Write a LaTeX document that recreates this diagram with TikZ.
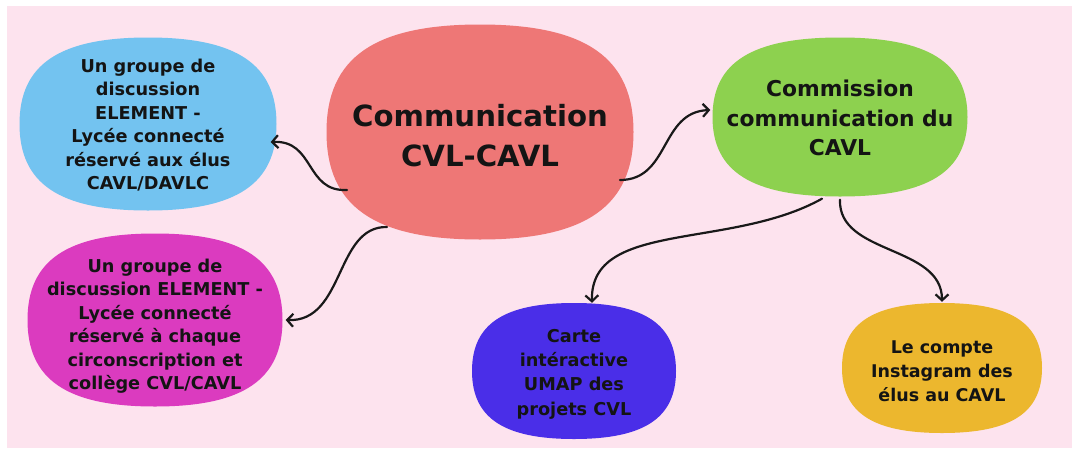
\documentclass[tikz,border=0pt]{standalone}
\usepackage{fontspec}
\setmainfont{DejaVu Sans}
\usetikzlibrary{arrows.meta,calc}
\definecolor{bgpink}{HTML}{FDE3EE}
\definecolor{cblue}{HTML}{73C3F0}
\definecolor{cmag}{HTML}{DB3BBF}
\definecolor{cred}{HTML}{EE7776}
\definecolor{cgreen}{HTML}{8DD14F}
\definecolor{cviolet}{HTML}{4A2EE8}
\definecolor{cyellow}{HTML}{ECB72E}
\definecolor{ctext}{HTML}{141414}
\def\kk{0.69}
% squircle-like blob: centre x, centre y, half width, half height, colour
\newcommand\sqblob[5]{%
  \fill[#5] (#1+#3,#2) .. controls (#1+#3,#2+\kk*#4) and (#1+\kk*#3,#2+#4) .. (#1,#2+#4)
    .. controls (#1-\kk*#3,#2+#4) and (#1-#3,#2+\kk*#4) .. (#1-#3,#2)
    .. controls (#1-#3,#2-\kk*#4) and (#1-\kk*#3,#2-#4) .. (#1,#2-#4)
    .. controls (#1+\kk*#3,#2-#4) and (#1+#3,#2-\kk*#4) .. cycle;}
\tikzset{
  holder/.style={rectangle, draw=none, fill=none, inner sep=0pt},
  txt/.style={align=center, inner sep=0pt, text=ctext,
    font=\bfseries\fontsize{17.7}{23.5}\selectfont},
  link/.style={line width=2.2pt, draw=black!90, line cap=round,
    -{Straight Barb[length=6pt,width=13pt,line width=2.2pt]}}
}
\begin{document}
\begin{tikzpicture}[x=1pt,y=-1pt]
\useasboundingbox (0,0) rectangle (1072,448);
\fill[white] (0,0) rectangle (1072,448);
\fill[bgpink] (7,6) rectangle (1072,448);

\sqblob{148}{124}{128.5}{86.5}{cblue}
\sqblob{155}{320}{127.5}{86.5}{cmag}
\sqblob{480}{132}{153.5}{107.5}{cred}
\sqblob{840}{117}{127.5}{79.5}{cgreen}
\sqblob{574}{371}{102}{68}{cviolet}
\sqblob{942}{368}{100}{65}{cyellow}

\node[holder, minimum width=257pt, minimum height=173pt] (blue) at (148,124) {};
\node[holder, minimum width=255pt, minimum height=173pt] (mag) at (155,320) {};
\node[holder, minimum width=307pt, minimum height=215pt] (red) at (480,132) {};
\node[holder, minimum width=255pt, minimum height=159pt] (green) at (840,117) {};
\node[holder, minimum width=204pt, minimum height=136pt] (violet) at (574,371) {};
\node[holder, minimum width=200pt, minimum height=130pt] (yellow) at (942,368) {};

\node[txt] (bluetext) at ($(blue.center)+(0,1)$)
  {Un groupe de\\discussion\\ELEMENT -\\Lycée connecté\\réservé aux élus\\CAVL/DAVLC};
\node[txt] (magtext) at ($(mag.center)+(0,6)$)
  {Un groupe de\\discussion ELEMENT -\\Lycée connecté\\réservé à chaque\\circonscription et\\collège CVL/CAVL};
\node[txt, font=\bfseries\fontsize{29.2}{40}\selectfont] (redtext) at ($(red.center)+(0,4)$)
  {Communication\\CVL-CAVL};
\node[txt, font=\bfseries\fontsize{21.8}{29.5}\selectfont] (greentext) at ($(green.center)+(0,1)$)
  {Commission\\communication du\\CAVL};
\node[txt, font=\bfseries\fontsize{17.7}{24.3}\selectfont] (violettext) at ($(violet.center)+(0,3)$)
  {Carte\\intéractive\\UMAP des\\projets CVL};
\node[txt, font=\bfseries\fontsize{17.5}{24}\selectfont] (yellowtext) at ($(yellow.center)+(0,3)$)
  {Le compte\\Instagram des\\élus au CAVL};

\draw[link] ($(red.center)+(-133,58)$) .. controls (305,192) and (315,140) .. ($(blue.east)+(-6,18)$);
\draw[link] ($(red.center)+(-93,95)$) .. controls (335,226) and (345,322) .. ($(mag.east)+(3,0)$);
\draw[link] ($(red.center)+(140,48)$) .. controls (670,180) and (660,112) .. ($(green.west)+(-2,-7)$);
\draw[link] ($(green.south)+(-18,2)$) .. controls (730,250) and (590,220) .. ($(violet.north)+(18,0)$);
\draw[link] ($(green.south)+(0,3)$) .. controls (838,255) and (942,245) .. ($(yellow.north)+(0,-1)$);
\end{tikzpicture}
\end{document}
